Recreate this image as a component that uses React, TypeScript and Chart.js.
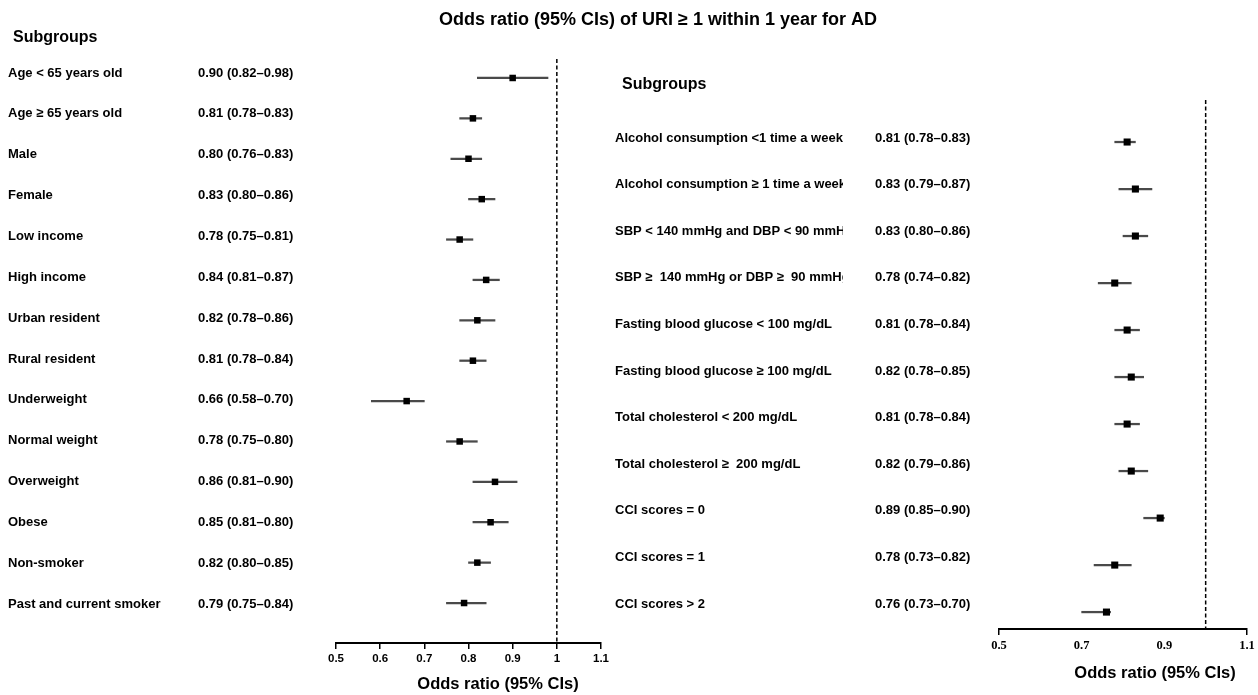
import React, { useEffect, useRef } from 'react';
import { Chart, registerables } from 'chart.js';

Chart.register(...registerables);

const SANS = '"Liberation Sans", Arial, sans-serif';
const SERIF = '"Liberation Serif", "Times New Roman", serif';

const TITLE = 'Odds ratio (95% CIs) of URI \u2265 1 within 1 year for AD';
const AXIS_TITLE = 'Odds ratio (95% CIs)';
const HEADING = 'Subgroups';

// ---- Left panel ----
const leftLabels = [
  'Age < 65 years old',
  'Age \u2265 65 years old',
  'Male',
  'Female',
  'Low income',
  'High income',
  'Urban resident',
  'Rural resident',
  'Underweight',
  'Normal weight',
  'Overweight',
  'Obese',
  'Non-smoker',
  'Past and current smoker',
];
const leftTexts = [
  '0.90 (0.82\u20130.98)',
  '0.81 (0.78\u20130.83)',
  '0.80 (0.76\u20130.83)',
  '0.83 (0.80\u20130.86)',
  '0.78 (0.75\u20130.81)',
  '0.84 (0.81\u20130.87)',
  '0.82 (0.78\u20130.86)',
  '0.81 (0.78\u20130.84)',
  '0.66 (0.58\u20130.70)',
  '0.78 (0.75\u20130.80)',
  '0.86 (0.81\u20130.90)',
  '0.85 (0.81\u20130.80)',
  '0.82 (0.80\u20130.85)',
  '0.79 (0.75\u20130.84)',
];
const leftOR = [0.9, 0.81, 0.8, 0.83, 0.78, 0.84, 0.82, 0.81, 0.66, 0.78, 0.86, 0.85, 0.82, 0.79];
const leftLo = [0.82, 0.78, 0.76, 0.8, 0.75, 0.81, 0.78, 0.78, 0.58, 0.75, 0.81, 0.81, 0.8, 0.75];
const leftHi = [0.98, 0.83, 0.83, 0.86, 0.81, 0.87, 0.86, 0.84, 0.7, 0.82, 0.91, 0.89, 0.85, 0.84];

// ---- Right panel ----
const rightLabels = [
  'Alcohol consumption <1 time a week',
  'Alcohol consumption \u2265 1 time a week',
  'SBP < 140 mmHg and DBP < 90 mmHg',
  'SBP \u2265  140 mmHg or DBP \u2265  90 mmHg',
  'Fasting blood glucose < 100 mg/dL',
  'Fasting blood glucose \u2265 100 mg/dL',
  'Total cholesterol < 200 mg/dL',
  'Total cholesterol \u2265  200 mg/dL',
  'CCI scores = 0',
  'CCI scores = 1',
  'CCI scores > 2',
];
const rightTexts = [
  '0.81 (0.78\u20130.83)',
  '0.83 (0.79\u20130.87)',
  '0.83 (0.80\u20130.86)',
  '0.78 (0.74\u20130.82)',
  '0.81 (0.78\u20130.84)',
  '0.82 (0.78\u20130.85)',
  '0.81 (0.78\u20130.84)',
  '0.82 (0.79\u20130.86)',
  '0.89 (0.85\u20130.90)',
  '0.78 (0.73\u20130.82)',
  '0.76 (0.73\u20130.70)',
];
const rightOR = [0.81, 0.83, 0.83, 0.78, 0.81, 0.82, 0.81, 0.82, 0.89, 0.78, 0.76];
const rightLo = [0.78, 0.79, 0.8, 0.74, 0.78, 0.78, 0.78, 0.79, 0.85, 0.73, 0.7];
const rightHi = [0.83, 0.87, 0.86, 0.82, 0.84, 0.85, 0.84, 0.86, 0.9, 0.82, 0.77];

const REF_VALUE = 1;

type Panel = {
  id: string;
  labels: string[];
  texts: string[];
  or: number[];
  lo: number[];
  hi: number[];
  xMin: number;
  xMax: number;
  step: number;
  endTicksOnly: boolean;
  tickFont: any;
  pad: { left: number; right: number; top: number };
  axisH: number;
  yMin: number;
  yMax: number;
  pointR: number;
  showTitle: boolean;
  headX: number;
  headY: number;
  labelX: number;
  valueX: number;
  rowY0: number;
  rowDy: number;
  clipL: number;
  clipR: number;
  axTitleX: number;
  axTitleY: number;
};

const leftPanel: Panel = {
  id: 'left',
  labels: leftLabels,
  texts: leftTexts,
  or: leftOR,
  lo: leftLo,
  hi: leftHi,
  xMin: 0.5,
  xMax: 1.1,
  step: 0.1,
  endTicksOnly: false,
  tickFont: { family: SANS, size: 11.5, weight: 'bold' },
  pad: { left: 336, right: 1258 - 601, top: 59 },
  axisH: 52,
  yMin: -0.47,
  yMax: 13.99,
  pointR: 4.6,
  showTitle: true,
  headX: 13,
  headY: 38,
  labelX: 8,
  valueX: 198,
  rowY0: 73,
  rowDy: 40.85,
  clipL: 0,
  clipR: 330,
  axTitleX: 498,
  axTitleY: 684,
};

const rightPanel: Panel = {
  id: 'right',
  labels: rightLabels,
  texts: rightTexts,
  or: rightOR,
  lo: rightLo,
  hi: rightHi,
  xMin: 0.5,
  xMax: 1.1,
  step: 0.2,
  endTicksOnly: true,
  tickFont: { family: SERIF, size: 12.5, weight: 'bold' },
  pad: { left: 999, right: 1258 - 1247, top: 100 },
  axisH: 66,
  yMin: -0.894,
  yMax: 10.36,
  pointR: 5,
  showTitle: false,
  headX: 622,
  headY: 85,
  labelX: 615,
  valueX: 875,
  rowY0: 138,
  rowDy: 46.6,
  clipL: 600,
  clipR: 843,
  axTitleX: 1155,
  axTitleY: 673,
};

function textPlugin(p: Panel) {
  return {
    id: 'texts_' + p.id,
    afterDraw(chart: any) {
      const ctx = chart.ctx as CanvasRenderingContext2D;
      ctx.save();
      ctx.fillStyle = '#000';
      ctx.textBaseline = 'middle';
      if (p.showTitle) {
        ctx.textAlign = 'center';
        ctx.font = `bold 18px ${SANS}`;
        ctx.fillText(TITLE, 658, 20);
      }
      ctx.textAlign = 'left';
      ctx.font = `bold 16px ${SANS}`;
      ctx.fillText(HEADING, p.headX, p.headY);
      ctx.font = `bold 13px ${SANS}`;
      ctx.save();
      ctx.beginPath();
      ctx.rect(p.clipL, 0, p.clipR - p.clipL, 695);
      ctx.clip();
      p.labels.forEach((l, i) => ctx.fillText(l, p.labelX, p.rowY0 + i * p.rowDy));
      ctx.restore();
      ctx.font = `bold 13px ${SANS}`;
      p.texts.forEach((t, i) => ctx.fillText(t, p.valueX, p.rowY0 + i * p.rowDy));
      ctx.textAlign = 'center';
      ctx.font = `bold 16.5px ${SANS}`;
      ctx.fillText(AXIS_TITLE, p.axTitleX, p.axTitleY);
      ctx.restore();
    },
  };
}

function makeConfig(p: Panel): any {
  const isEnd = (v: number) => Math.abs(v - p.xMin) < 1e-6 || Math.abs(v - p.xMax) < 1e-6;
  return {
    type: 'bar',
    data: {
      datasets: [
        {
          type: 'line',
          data: [
            { x: REF_VALUE, y: p.yMin },
            { x: REF_VALUE, y: p.yMax },
          ],
          borderColor: '#000',
          borderWidth: 1.5,
          borderDash: [4, 2.5],
          pointRadius: 0,
          fill: false,
          order: 3,
        },
        {
          type: 'bar',
          data: p.lo.map((l, i) => ({ x: [l, p.hi[i]], y: i })),
          backgroundColor: '#4a4a4a',
          borderWidth: 0,
          barThickness: 1.6,
          order: 2,
        },
        {
          type: 'scatter',
          data: p.or.map((v, i) => ({ x: v, y: i })),
          pointStyle: 'rect',
          pointRadius: p.pointR,
          backgroundColor: '#000',
          borderWidth: 0,
          order: 1,
        },
      ],
    },
    options: {
      indexAxis: 'y',
      responsive: false,
      animation: false,
      events: [],
      layout: { padding: { left: p.pad.left, right: p.pad.right, top: p.pad.top, bottom: 0 } },
      plugins: {
        legend: { display: false },
        tooltip: { enabled: false },
        title: { display: false },
      },
      scales: {
        x: {
          type: 'linear',
          position: 'bottom',
          min: p.xMin,
          max: p.xMax,
          offset: false,
          ticks: {
            stepSize: p.step,
            autoSkip: false,
            maxRotation: 0,
            color: '#000',
            font: p.tickFont,
            padding: 3,
            callback: (v: any) => String(Number(Number(v).toFixed(2))),
          },
          grid: {
            display: true,
            offset: false,
            drawOnChartArea: false,
            drawTicks: true,
            tickLength: 6,
            lineWidth: 1.5,
            color: (c: any) =>
              !p.endTicksOnly || (c.tick && isEnd(c.tick.value)) ? '#000' : 'rgba(0,0,0,0)',
          },
          border: { display: true, color: '#000', width: 2 },
          afterFit: (s: any) => {
            s.height = p.axisH;
          },
        },
        y: {
          type: 'linear',
          display: false,
          reverse: true,
          offset: false,
          min: p.yMin,
          max: p.yMax,
          grid: { offset: false },
        },
      },
    },
    plugins: [textPlugin(p)],
  };
}

function PanelCanvas({ panel }: { panel: Panel }) {
  const ref = useRef<HTMLCanvasElement | null>(null);
  useEffect(() => {
    if (!ref.current) return;
    const chart = new Chart(ref.current, makeConfig(panel));
    return () => chart.destroy();
  }, [panel]);
  return (
    <canvas
      ref={ref}
      width={1258}
      height={695}
      style={{ position: 'absolute', left: 0, top: 0, width: 1258, height: 695, display: 'block' }}
    />
  );
}

export default function App() {
  return (
    <div
      style={{
        position: 'absolute',
        left: 0,
        top: 0,
        width: 1258,
        height: 695,
        background: '#fff',
        overflow: 'hidden',
      }}
    >
      <PanelCanvas panel={leftPanel} />
      <PanelCanvas panel={rightPanel} />
    </div>
  );
}
